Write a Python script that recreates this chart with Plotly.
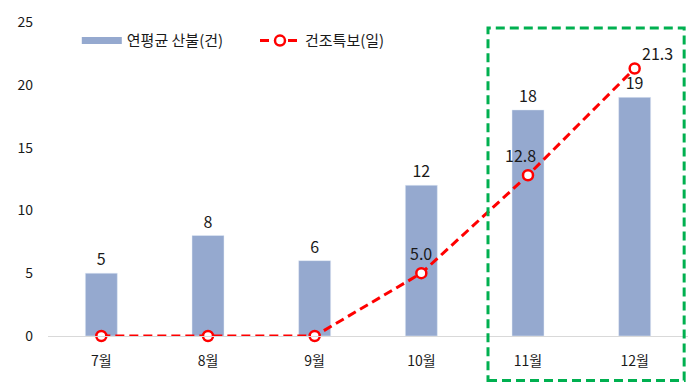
import plotly.graph_objects as go

months = ["7월", "8월", "9월", "10월", "11월", "12월"]
fires = [5, 8, 6, 12, 18, 19]
dry_days = [0, 0, 0, 5.0, 12.8, 21.3]
dry_labels = ["", "", "", "5.0", "12.8", "21.3"]

FONT = "Noto Sans CJK KR"
BAR_COLOR = "#95A9CF"
TXT = "#1a1a1a"

fig = go.Figure()
fig.add_trace(go.Bar(
    x=months, y=fires, name="연평균 산불(건)", showlegend=False,
    marker=dict(color=BAR_COLOR), width=0.3,
    text=[str(v) for v in fires], textposition="outside",
    textfont=dict(size=16, color=TXT, family=FONT),
    cliponaxis=False,
))
# legend entry for bars (wide swatch like the reference)
fig.add_trace(go.Scatter(
    x=[None], y=[None], mode="lines", name="연평균 산불(건)        ",
    line=dict(color=BAR_COLOR, width=7),
))
fig.add_trace(go.Scatter(
    x=months, y=dry_days, name="건조특보(일)",
    mode="lines+markers",
    line=dict(color="#FF0000", width=3, dash="9px,5px"),
    marker=dict(symbol="circle", size=10, color="white", line=dict(color="#FF0000", width=2.5)),
    cliponaxis=False,
))

# line value labels
label_shift = {"5.0": (0, 20), "12.8": (-8, 20), "21.3": (23, 15)}
for m, v, lab in zip(months, dry_days, dry_labels):
    if not lab:
        continue
    dx, dy = label_shift[lab]
    fig.add_annotation(x=m, y=v, text=lab, showarrow=False, xshift=dx, yshift=dy,
                       font=dict(size=16, color=TXT, family=FONT))

fig.add_shape(type="rect", xref="paper", yref="paper",
              x0=0.6875, x1=0.994, y0=-0.1415, y1=0.981,
              line=dict(color="#00B050", width=3, dash="9px,5px"))

fig.update_layout(
    width=699, height=392,
    margin=dict(l=48, r=11, t=18, b=56),
    paper_bgcolor="white", plot_bgcolor="white",
    font=dict(family=FONT, size=14, color=TXT),
    showlegend=True,
    legend=dict(orientation="h", x=0.045, y=0.94, xanchor="left", yanchor="middle",
                font=dict(size=15, family=FONT, color=TXT),
                bgcolor="rgba(0,0,0,0)", itemwidth=40, tracegroupgap=0),
    xaxis=dict(showgrid=False, showline=True, linecolor="#D9D9D9", linewidth=1,
               ticks="", ticklabelstandoff=12, tickfont=dict(size=14)),
    yaxis=dict(range=[0, 25], dtick=5, showgrid=False, zeroline=False, showline=False,
               ticks="", ticklabelstandoff=14, tickfont=dict(size=14)),
)

fig.write_html("out.html")
